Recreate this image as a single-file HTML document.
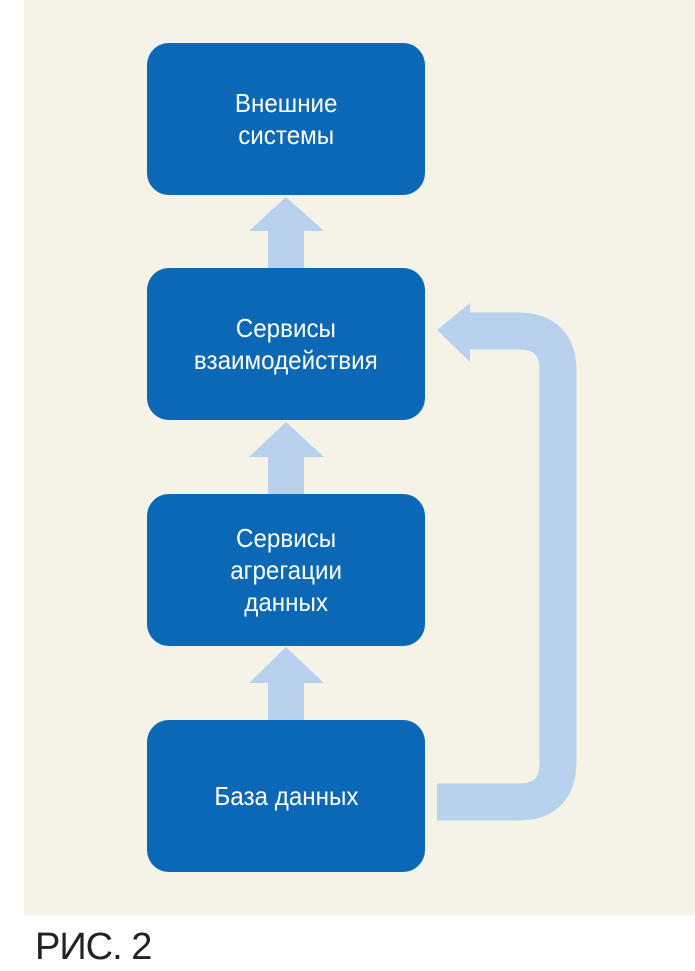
<!DOCTYPE html>
<html><head><meta charset="utf-8"><style>
body{margin:0;width:695px;height:971px;background:#fff;position:relative;overflow:hidden;font-family:"Liberation Sans",sans-serif}
.bg{position:absolute;left:24px;top:0;width:671px;height:915px;background:#f5f3e8}
.box{position:absolute;left:147px;width:278px;height:152px;background:#0a68b7;border-radius:22px;color:#fff;font-size:26px;line-height:32px;display:flex;align-items:center;justify-content:center;text-align:center}
.box span{display:inline-block;transform:scaleX(0.93)}
.cap{position:absolute;left:35px;top:926px;font-size:38px;color:#222;letter-spacing:-1px;font-weight:300}
svg{position:absolute;left:0;top:0}
</style></head><body>
<div class="bg"></div>
<svg width="695" height="971">
<g fill="#b8d2ee">
<path d="M268 268 V231 H249 L286 197 L324 231 H304 V268Z"/>
<path d="M268 495 V457 H249 L286 422 L324 457 H304 V495Z"/>
<path d="M268 720 V683 H249 L286 647 L324 683 H304 V720Z"/>
<path d="M437 330 L470 303 V362 Z"/>
</g>
<path d="M465 331 H518 Q558 331 558 371 V762 Q558 802 518 802 H437" fill="none" stroke="#b8d2ee" stroke-width="37"/>
</svg>
<div class="box" style="top:43px"><span>Внешние<br>системы</span></div>
<div class="box" style="top:268px"><span>Сервисы<br>взаимодействия</span></div>
<div class="box" style="top:494px"><span>Сервисы<br>агрегации<br>данных</span></div>
<div class="box" style="top:720px"><span>База данных</span></div>
<div class="cap">РИС. 2</div>
</body></html>
